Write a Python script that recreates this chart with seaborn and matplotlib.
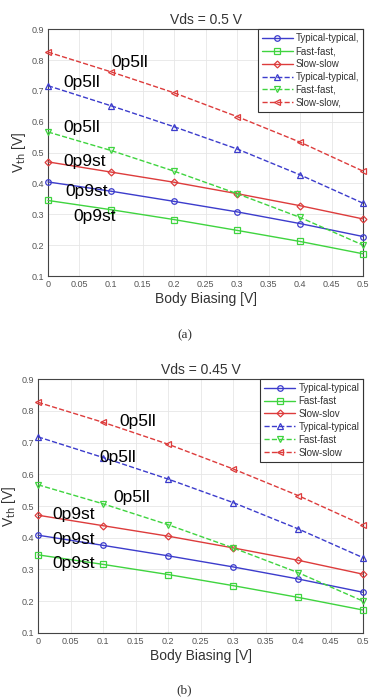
import matplotlib
matplotlib.use('Agg')
from matplotlib import pyplot as plt
import pandas as pd
import seaborn as sns

# body biasing values [V]
bias = [0, 0.1, 0.2, 0.3, 0.4, 0.5]

# (a) Vds = 0.5 V
a_tt_st = [0.405, 0.375, 0.342, 0.308, 0.270, 0.228]
a_ff_st = [0.345, 0.315, 0.283, 0.248, 0.212, 0.172]
a_ss_st = [0.470, 0.437, 0.404, 0.367, 0.328, 0.285]
a_tt_ll = [0.717, 0.652, 0.584, 0.512, 0.428, 0.336]
a_ff_ll = [0.567, 0.507, 0.440, 0.367, 0.290, 0.200]
a_ss_ll = [0.826, 0.762, 0.694, 0.617, 0.534, 0.440]

# (b) Vds = 0.45 V
b_tt_st = [0.408, 0.376, 0.343, 0.308, 0.270, 0.228]
b_ff_st = [0.346, 0.316, 0.284, 0.249, 0.212, 0.172]
b_ss_st = [0.471, 0.438, 0.405, 0.368, 0.329, 0.285]
b_tt_ll = [0.718, 0.653, 0.585, 0.511, 0.428, 0.337]
b_ff_ll = [0.567, 0.507, 0.441, 0.368, 0.290, 0.200]
b_ss_ll = [0.827, 0.764, 0.695, 0.617, 0.533, 0.440]

labels_a = ['Typical-typical,', 'Fast-fast,', 'Slow-slow',
            'Typical-typical,', 'Fast-fast,', 'Slow-slow,']
labels_b = ['Typical-typical', 'Fast-fast', 'Slow-slov',
            'Typical-typical', 'Fast-fast', 'Slow-slow']

xticks = [0, 0.05, 0.1, 0.15, 0.2, 0.25, 0.3, 0.35, 0.4, 0.45, 0.5]
xticklabels = ['0', '0.05', '0.1', '0.15', '0.2', '0.25', '0.3', '0.35', '0.4', '0.45', '0.5']
yticks = [0.1, 0.2, 0.3, 0.4, 0.5, 0.6, 0.7, 0.8, 0.9]

# annotation texts and positions (data coords)
notes_a = [('0p5ll', 0.100, 0.793), ('0p5ll', 0.024, 0.728), ('0p5ll', 0.024, 0.583),
           ('0p9st', 0.024, 0.470), ('0p9st', 0.027, 0.373), ('0p9st', 0.040, 0.292)]
notes_b = [('0p5ll', 0.125, 0.765), ('0p5ll', 0.095, 0.654), ('0p5ll', 0.116, 0.528),
           ('0p9st', 0.022, 0.472), ('0p9st', 0.022, 0.393), ('0p9st', 0.022, 0.320)]

blue, green, red = '#3c3ccc', '#3fd43f', '#dd3c3c'
styles = [(blue, 'o', '-'), (green, 's', '-'), (red, 'D', '-'),
          (blue, '^', '--'), (green, 'v', '--'), (red, '<', '--')]

sns.set_style('whitegrid')
plt.rcParams['font.family'] = ['Liberation Sans', 'DejaVu Sans']

fig = plt.figure(figsize=(3.69, 6.97), dpi=100)
ax1 = fig.add_axes([0.130, 0.604, 0.854, 0.354])
ax2 = fig.add_axes([0.103, 0.092, 0.881, 0.364])


def draw(ax, series, labels, title, notes):
    for vals, lab, (c, m, ls) in zip(series, labels, styles):
        ms = 4 if m in ('o', 's', 'D') else 4.5
        if m == 'D':
            ms = 3.5
        sns.lineplot(x=bias, y=vals, ax=ax, color=c, marker=m, linestyle=ls,
                     linewidth=1.0, markersize=ms, markerfacecolor='none',
                     markeredgecolor=c, markeredgewidth=0.9, label=lab,
                     clip_on=False, zorder=3)
    ax.set_xlim(0, 0.5)
    ax.set_ylim(0.1, 0.9)
    ax.set_xticks(xticks)
    ax.set_xticklabels(xticklabels)
    ax.set_yticks(yticks)
    ax.tick_params(labelsize=6.5, colors='#555555', length=2, direction='in', pad=3)
    ax.grid(True, color='#e6e6e6', linewidth=0.6)
    for s in ax.spines.values():
        s.set_color('#444444')
        s.set_linewidth(0.8)
    ax.set_title(title, fontsize=10, color='#333333', pad=4)
    ax.set_xlabel('Body Biasing [V]', fontsize=10, color='#333333', labelpad=2)
    ax.set_ylabel('V$_{\\mathrm{th}}$ [V]', fontsize=10, color='#333333', labelpad=2)
    for t, x, y in notes:
        ax.text(x, y, t, fontsize=12.5, color='black', va='center', ha='left', zorder=4)
    leg = ax.legend(loc='upper right', fontsize=7, labelspacing=0.3, handlelength=3.2,
                    handletextpad=0.3, borderpad=0.4, fancybox=False, framealpha=1,
                    borderaxespad=0.0)
    leg.set_zorder(5)
    leg.get_frame().set_edgecolor('#333333')
    leg.get_frame().set_linewidth(0.8)
    for t in leg.get_texts():
        t.set_color('#333333')


draw(ax1, [a_tt_st, a_ff_st, a_ss_st, a_tt_ll, a_ff_ll, a_ss_ll], labels_a, 'Vds = 0.5 V', notes_a)
draw(ax2, [b_tt_st, b_ff_st, b_ss_st, b_tt_ll, b_ff_ll, b_ss_ll], labels_b, 'Vds = 0.45 V', notes_b)

fig.text(0.5, 1 - 335 / 697, '(a)', ha='center', va='center', fontsize=9.5,
         family=['Liberation Serif', 'DejaVu Serif'], color='#333333')
fig.text(0.5, 1 - 690 / 697, '(b)', ha='center', va='center', fontsize=9.5,
         family=['Liberation Serif', 'DejaVu Serif'], color='#333333')

fig.savefig('out.png', dpi=100)
